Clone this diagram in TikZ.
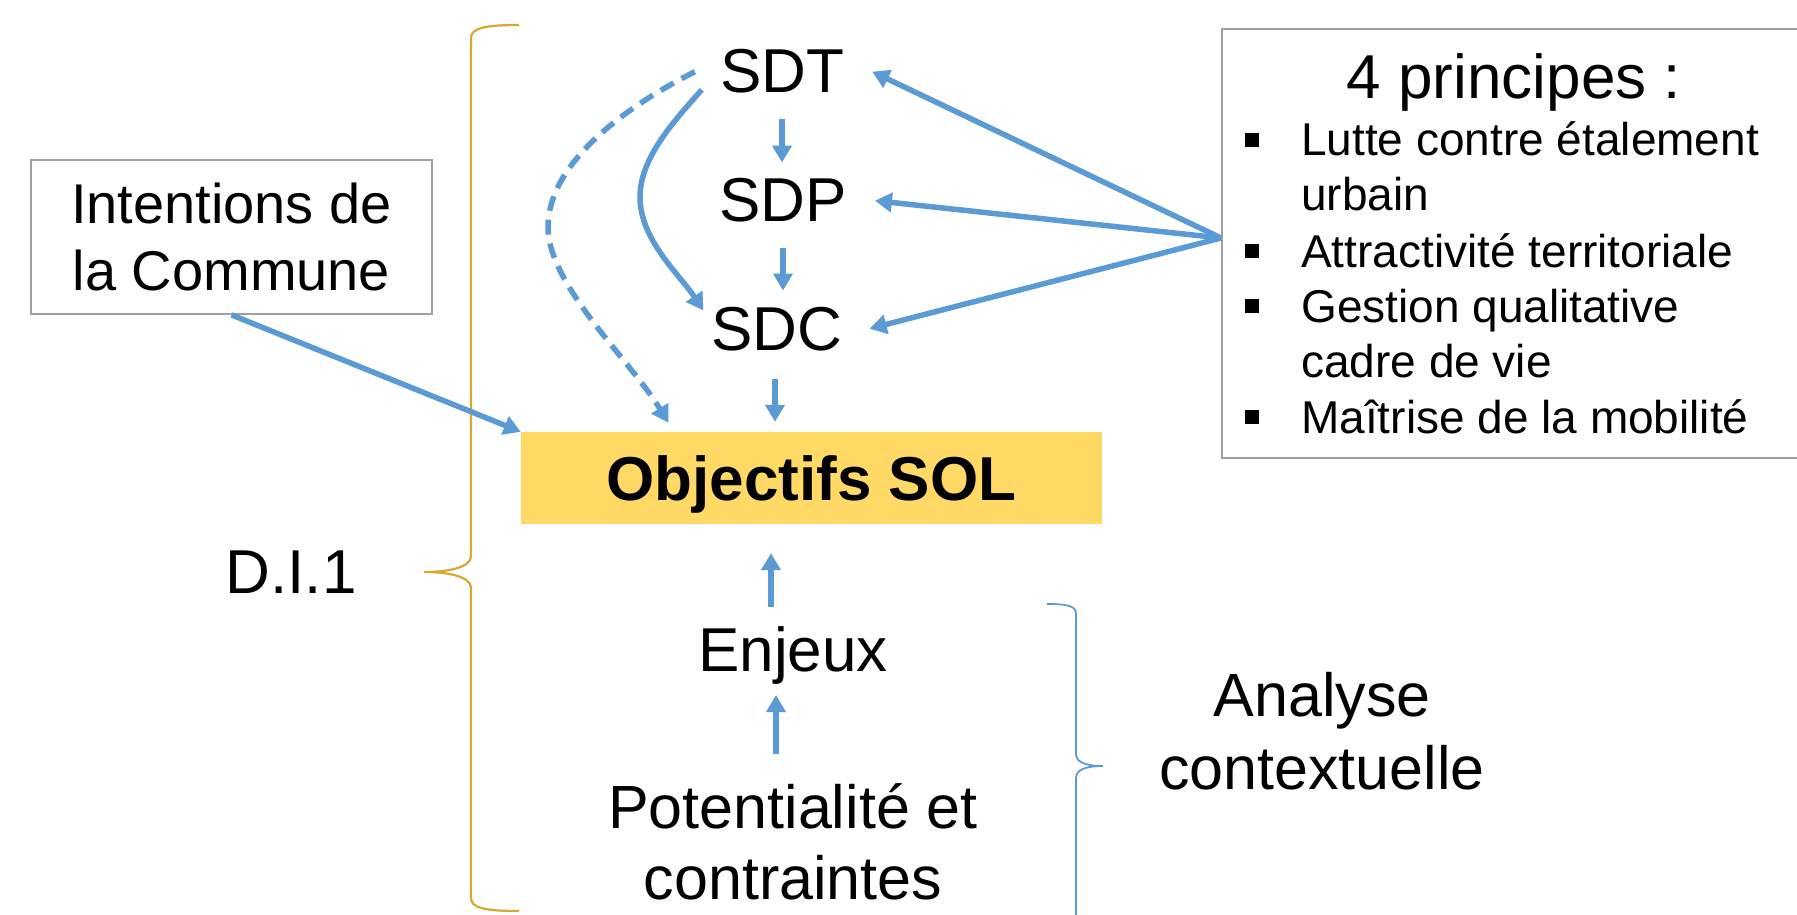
\documentclass[tikz,border=0pt]{standalone}
\usepackage{fontspec}
\setmainfont{Liberation Sans}
\usetikzlibrary{arrows.meta}
\definecolor{arrblue}{RGB}{91,155,213}
\definecolor{objfill}{RGB}{255,217,102}
\definecolor{bracegold}{RGB}{214,168,54}
\definecolor{boxgray}{RGB}{160,160,160}
\begin{document}
\begin{tikzpicture}[x=1pt,y=-1pt,
  arr/.style={draw=arrblue, line width=5.5pt, -{Triangle[length=17pt,width=19pt]}},
  big/.style={font=\fontsize{62}{71}\selectfont, inner sep=0pt, anchor=base},
  bul/.style={font=\fontsize{46}{55}\selectfont, inner sep=0pt, anchor=base west},
  sq/.style={fill=black, minimum size=14pt, inner sep=0pt},
  frame/.style={draw=boxgray, line width=1.8pt}]
\useasboundingbox (0,0) rectangle (1797,915);
\fill[white] (0,0) rectangle (1797,915);

% braces
\draw[bracegold, line width=2.2pt] (519,25) .. controls (485,25) and (471,28) .. (471,38) -- (471,556)
  .. controls (471,567) and (450,572) .. (424,572) .. controls (450,572) and (471,577) .. (471,588)
  -- (471,898) .. controls (471,908) and (485,911) .. (519,911);
\draw[arrblue, line width=1.8pt] (1047,604) .. controls (1068,604) and (1076,606) .. (1076,614) -- (1076,754)
  .. controls (1076,762) and (1085,766) .. (1103,766) .. controls (1085,766) and (1076,770) .. (1076,778)
  -- (1076,930);

% nodes
\node[big] (SDT) at (782,93) {SDT};
\node[big] (SDP) at (783,222) {SDP};
\node[big] (SDC) at (777,350) {SDC};
\node[fill=objfill, minimum width=581pt, minimum height=92pt, inner sep=0pt,
  font=\fontsize{62}{71}\selectfont\bfseries, text height=45pt, text depth=0pt] (Obj) at (811.5,478) {Objectifs SOL};
\node[big] (Enj) at (793,671) {Enjeux};
\node[font=\fontsize{61}{71}\selectfont, align=center, inner sep=0pt] (Pot) at (793,842) {Potentialité et\\contraintes};
\node[big] (DI) at (291,593) {D.I.1};
\node[font=\fontsize{61}{73}\selectfont, align=center, inner sep=0pt] (Ana) at (1322,731) {Analyse\\contextuelle};
\node[frame, minimum width=401pt, minimum height=154pt, align=center, inner sep=0pt,
  font=\fontsize{56}{67}\selectfont] (Int) at (231.5,237) {Intentions de\\la Commune};

% principles box
\draw[frame] (1797,29) -- (1222,29) -- (1222,458) -- (1797,458);
\coordinate (src) at (1221,238);
\node[big] (Title) at (1514,99) {4 principes :};
\node[bul] (L1) at (1301,156) {Lutte contre étalement};
\node[bul] (L1b) at (1301,211) {urbain};
\node[bul] (L2) at (1301,267) {Attractivité territoriale};
\node[bul] (L3) at (1301,322) {Gestion qualitative};
\node[bul] (L3b) at (1301,377) {cadre de vie};
\node[bul] (L4) at (1301,433) {Maîtrise de la mobilité};
\node[sq] (b1) at (1252,140) {};
\node[sq] (b2) at (1252,251) {};
\node[sq] (b3) at (1252,306) {};
\node[sq] (b4) at (1252,417) {};

% connectors
\draw[arr] (src) -- ([xshift=28pt]SDT.east);
\draw[arr] (src) -- ([xshift=28pt]SDP.east);
\draw[arr] (src) -- ([xshift=27pt]SDC.east);
\draw[arr, shorten <=25pt, shorten >=16pt] (SDT.south) -- (SDT.south |- SDP.north);
\draw[arr, shorten <=25pt, shorten >=16pt] (SDP.south) -- (SDP.south |- SDC.north);
\draw[arr, shorten <=28pt, shorten >=10pt] ([xshift=-2pt]SDC.south) -- ([xshift=-2pt]SDC.south |- Obj.north);
\draw[arr, shorten <=19pt, shorten >=29pt] ([xshift=-22pt]Enj.north) -- ([xshift=-22pt]Enj.north |- Obj.south);
\draw[arr, shorten <=30pt, shorten >=11pt] ([xshift=-17pt]Pot.north) -- ([xshift=-17pt]Pot.north |- Enj.south);
\draw[arr] (Int.south) -- (Obj.north west);
\draw[arr, dash pattern=on 15pt off 9pt] ([xshift=-25pt]SDT.west) .. controls (610,115) and (548,170) .. (548,227)
  .. controls (548,285) and (630,360) .. ([xshift=-143pt,yshift=9pt]Obj.north);
\draw[arr] ([xshift=-18pt,yshift=4pt]SDT.south west) .. controls (670,125) and (640,160) .. (640,197)
  .. controls (640,240) and (680,275) .. ([xshift=-8pt,yshift=-4pt]SDC.north west);
\end{tikzpicture}
\end{document}
